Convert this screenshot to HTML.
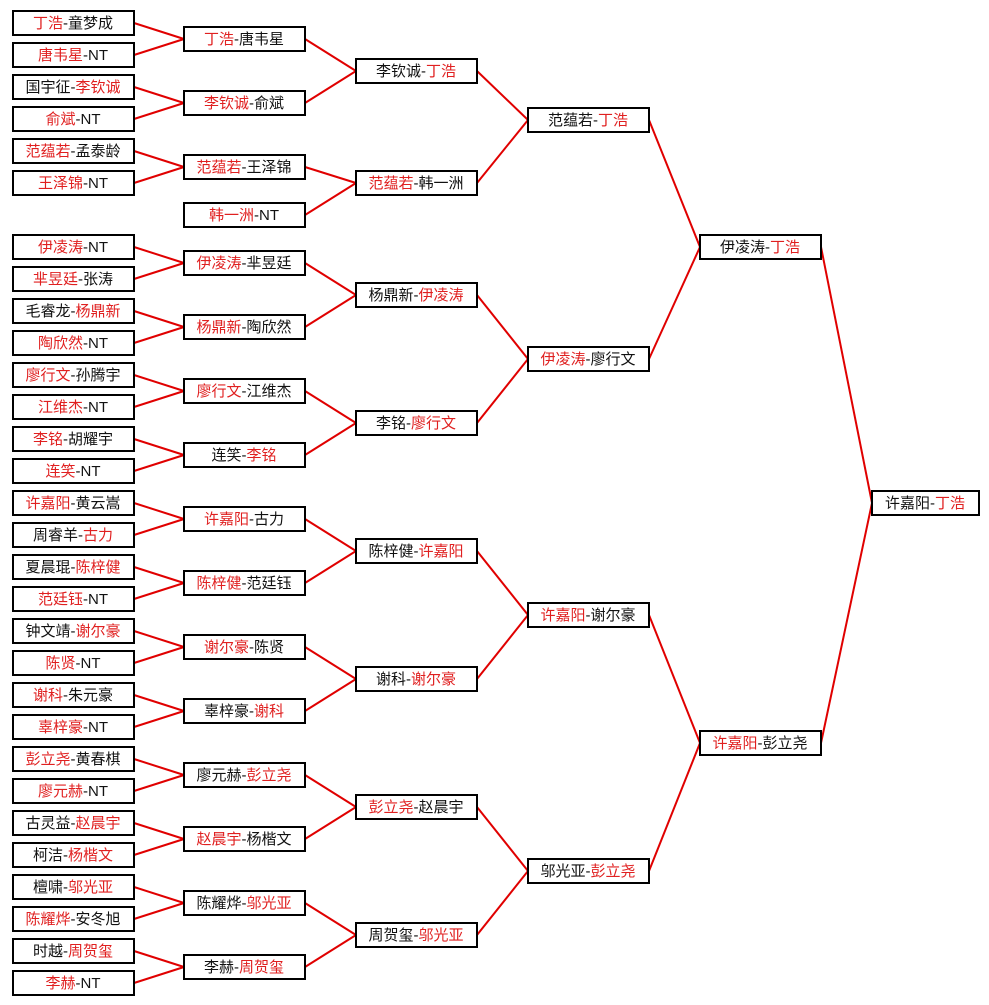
<!DOCTYPE html>
<html><head><meta charset="utf-8"><style>
html,body{margin:0;padding:0;background:#fff;}
svg{display:block;}
text{font-family:"Liberation Sans","Noto Sans CJK SC",sans-serif;font-size:15px;fill:#111;text-anchor:middle;}
.r{fill:#e02020;}
rect{fill:#fff;stroke:#000;stroke-width:2;}
line{stroke:#e00000;stroke-width:2;}
</style></head><body>
<svg width="989" height="1005" viewBox="0 0 989 1005" xmlns="http://www.w3.org/2000/svg">
<rect x="0" y="0" width="989" height="1005" style="fill:#fff;stroke:none"/>
<g>
<!-- col1 -> col2 lines -->
<line x1="134" y1="23" x2="184" y2="39"/><line x1="134" y1="55" x2="184" y2="39"/>
<line x1="134" y1="87" x2="184" y2="103"/><line x1="134" y1="119" x2="184" y2="103"/>
<line x1="134" y1="151" x2="184" y2="167"/><line x1="134" y1="183" x2="184" y2="167"/>
<line x1="134" y1="247" x2="184" y2="263"/><line x1="134" y1="279" x2="184" y2="263"/>
<line x1="134" y1="311" x2="184" y2="327"/><line x1="134" y1="343" x2="184" y2="327"/>
<line x1="134" y1="375" x2="184" y2="391"/><line x1="134" y1="407" x2="184" y2="391"/>
<line x1="134" y1="439" x2="184" y2="455"/><line x1="134" y1="471" x2="184" y2="455"/>
<line x1="134" y1="503" x2="184" y2="519"/><line x1="134" y1="535" x2="184" y2="519"/>
<line x1="134" y1="567" x2="184" y2="583"/><line x1="134" y1="599" x2="184" y2="583"/>
<line x1="134" y1="631" x2="184" y2="647"/><line x1="134" y1="663" x2="184" y2="647"/>
<line x1="134" y1="695" x2="184" y2="711"/><line x1="134" y1="727" x2="184" y2="711"/>
<line x1="134" y1="759" x2="184" y2="775"/><line x1="134" y1="791" x2="184" y2="775"/>
<line x1="134" y1="823" x2="184" y2="839"/><line x1="134" y1="855" x2="184" y2="839"/>
<line x1="134" y1="887" x2="184" y2="903"/><line x1="134" y1="919" x2="184" y2="903"/>
<line x1="134" y1="951" x2="184" y2="967"/><line x1="134" y1="983" x2="184" y2="967"/>
<!-- col2 -> col3 -->
<line x1="305" y1="39" x2="356" y2="71"/><line x1="305" y1="103" x2="356" y2="71"/>
<line x1="305" y1="167" x2="356" y2="183"/><line x1="305" y1="215" x2="356" y2="183"/>
<line x1="305" y1="263" x2="356" y2="295"/><line x1="305" y1="327" x2="356" y2="295"/>
<line x1="305" y1="391" x2="356" y2="423"/><line x1="305" y1="455" x2="356" y2="423"/>
<line x1="305" y1="519" x2="356" y2="551"/><line x1="305" y1="583" x2="356" y2="551"/>
<line x1="305" y1="647" x2="356" y2="679"/><line x1="305" y1="711" x2="356" y2="679"/>
<line x1="305" y1="775" x2="356" y2="807"/><line x1="305" y1="839" x2="356" y2="807"/>
<line x1="305" y1="903" x2="356" y2="935"/><line x1="305" y1="967" x2="356" y2="935"/>
<!-- col3 -> col4 -->
<line x1="477" y1="71" x2="528" y2="120"/><line x1="477" y1="183" x2="528" y2="120"/>
<line x1="477" y1="295" x2="528" y2="359"/><line x1="477" y1="423" x2="528" y2="359"/>
<line x1="477" y1="551" x2="528" y2="615"/><line x1="477" y1="679" x2="528" y2="615"/>
<line x1="477" y1="807" x2="528" y2="871"/><line x1="477" y1="935" x2="528" y2="871"/>
<!-- col4 -> col5 -->
<line x1="649" y1="120" x2="700" y2="247"/><line x1="649" y1="359" x2="700" y2="247"/>
<line x1="649" y1="615" x2="700" y2="743"/><line x1="649" y1="871" x2="700" y2="743"/>
<!-- col5 -> col6 -->
<line x1="821" y1="247" x2="872" y2="503"/><line x1="821" y1="743" x2="872" y2="503"/>
</g>

<!-- col1 boxes -->
<g>
<rect x="13" y="11" width="121" height="24"/><text x="73" y="28"><tspan class="r">丁浩</tspan>-童梦成</text>
<rect x="13" y="43" width="121" height="24"/><text x="73" y="60"><tspan class="r">唐韦星</tspan>-NT</text>
<rect x="13" y="75" width="121" height="24"/><text x="73" y="92">国宇征-<tspan class="r">李钦诚</tspan></text>
<rect x="13" y="107" width="121" height="24"/><text x="73" y="124"><tspan class="r">俞斌</tspan>-NT</text>
<rect x="13" y="139" width="121" height="24"/><text x="73" y="156"><tspan class="r">范蕴若</tspan>-孟泰龄</text>
<rect x="13" y="171" width="121" height="24"/><text x="73" y="188"><tspan class="r">王泽锦</tspan>-NT</text>
<rect x="13" y="235" width="121" height="24"/><text x="73" y="252"><tspan class="r">伊凌涛</tspan>-NT</text>
<rect x="13" y="267" width="121" height="24"/><text x="73" y="284"><tspan class="r">芈昱廷</tspan>-张涛</text>
<rect x="13" y="299" width="121" height="24"/><text x="73" y="316">毛睿龙-<tspan class="r">杨鼎新</tspan></text>
<rect x="13" y="331" width="121" height="24"/><text x="73" y="348"><tspan class="r">陶欣然</tspan>-NT</text>
<rect x="13" y="363" width="121" height="24"/><text x="73" y="380"><tspan class="r">廖行文</tspan>-孙腾宇</text>
<rect x="13" y="395" width="121" height="24"/><text x="73" y="412"><tspan class="r">江维杰</tspan>-NT</text>
<rect x="13" y="427" width="121" height="24"/><text x="73" y="444"><tspan class="r">李铭</tspan>-胡耀宇</text>
<rect x="13" y="459" width="121" height="24"/><text x="73" y="476"><tspan class="r">连笑</tspan>-NT</text>
<rect x="13" y="491" width="121" height="24"/><text x="73" y="508"><tspan class="r">许嘉阳</tspan>-黄云嵩</text>
<rect x="13" y="523" width="121" height="24"/><text x="73" y="540">周睿羊-<tspan class="r">古力</tspan></text>
<rect x="13" y="555" width="121" height="24"/><text x="73" y="572">夏晨琨-<tspan class="r">陈梓健</tspan></text>
<rect x="13" y="587" width="121" height="24"/><text x="73" y="604"><tspan class="r">范廷钰</tspan>-NT</text>
<rect x="13" y="619" width="121" height="24"/><text x="73" y="636">钟文靖-<tspan class="r">谢尔豪</tspan></text>
<rect x="13" y="651" width="121" height="24"/><text x="73" y="668"><tspan class="r">陈贤</tspan>-NT</text>
<rect x="13" y="683" width="121" height="24"/><text x="73" y="700"><tspan class="r">谢科</tspan>-朱元豪</text>
<rect x="13" y="715" width="121" height="24"/><text x="73" y="732"><tspan class="r">辜梓豪</tspan>-NT</text>
<rect x="13" y="747" width="121" height="24"/><text x="73" y="764"><tspan class="r">彭立尧</tspan>-黄春棋</text>
<rect x="13" y="779" width="121" height="24"/><text x="73" y="796"><tspan class="r">廖元赫</tspan>-NT</text>
<rect x="13" y="811" width="121" height="24"/><text x="73" y="828">古灵益-<tspan class="r">赵晨宇</tspan></text>
<rect x="13" y="843" width="121" height="24"/><text x="73" y="860">柯洁-<tspan class="r">杨楷文</tspan></text>
<rect x="13" y="875" width="121" height="24"/><text x="73" y="892">檀啸-<tspan class="r">邬光亚</tspan></text>
<rect x="13" y="907" width="121" height="24"/><text x="73" y="924"><tspan class="r">陈耀烨</tspan>-安冬旭</text>
<rect x="13" y="939" width="121" height="24"/><text x="73" y="956">时越-<tspan class="r">周贺玺</tspan></text>
<rect x="13" y="971" width="121" height="24"/><text x="73" y="988"><tspan class="r">李赫</tspan>-NT</text>
</g>

<!-- col2 -->
<g>
<rect x="184" y="27" width="121" height="24"/><text x="244" y="44"><tspan class="r">丁浩</tspan>-唐韦星</text>
<rect x="184" y="91" width="121" height="24"/><text x="244" y="108"><tspan class="r">李钦诚</tspan>-俞斌</text>
<rect x="184" y="155" width="121" height="24"/><text x="244" y="172"><tspan class="r">范蕴若</tspan>-王泽锦</text>
<rect x="184" y="203" width="121" height="24"/><text x="244" y="220"><tspan class="r">韩一洲</tspan>-NT</text>
<rect x="184" y="251" width="121" height="24"/><text x="244" y="268"><tspan class="r">伊凌涛</tspan>-芈昱廷</text>
<rect x="184" y="315" width="121" height="24"/><text x="244" y="332"><tspan class="r">杨鼎新</tspan>-陶欣然</text>
<rect x="184" y="379" width="121" height="24"/><text x="244" y="396"><tspan class="r">廖行文</tspan>-江维杰</text>
<rect x="184" y="443" width="121" height="24"/><text x="244" y="460">连笑-<tspan class="r">李铭</tspan></text>
<rect x="184" y="507" width="121" height="24"/><text x="244" y="524"><tspan class="r">许嘉阳</tspan>-古力</text>
<rect x="184" y="571" width="121" height="24"/><text x="244" y="588"><tspan class="r">陈梓健</tspan>-范廷钰</text>
<rect x="184" y="635" width="121" height="24"/><text x="244" y="652"><tspan class="r">谢尔豪</tspan>-陈贤</text>
<rect x="184" y="699" width="121" height="24"/><text x="244" y="716">辜梓豪-<tspan class="r">谢科</tspan></text>
<rect x="184" y="763" width="121" height="24"/><text x="244" y="780">廖元赫-<tspan class="r">彭立尧</tspan></text>
<rect x="184" y="827" width="121" height="24"/><text x="244" y="844"><tspan class="r">赵晨宇</tspan>-杨楷文</text>
<rect x="184" y="891" width="121" height="24"/><text x="244" y="908">陈耀烨-<tspan class="r">邬光亚</tspan></text>
<rect x="184" y="955" width="121" height="24"/><text x="244" y="972">李赫-<tspan class="r">周贺玺</tspan></text>
</g>

<!-- col3 -->
<g>
<rect x="356" y="59" width="121" height="24"/><text x="416" y="76">李钦诚-<tspan class="r">丁浩</tspan></text>
<rect x="356" y="171" width="121" height="24"/><text x="416" y="188"><tspan class="r">范蕴若</tspan>-韩一洲</text>
<rect x="356" y="283" width="121" height="24"/><text x="416" y="300">杨鼎新-<tspan class="r">伊凌涛</tspan></text>
<rect x="356" y="411" width="121" height="24"/><text x="416" y="428">李铭-<tspan class="r">廖行文</tspan></text>
<rect x="356" y="539" width="121" height="24"/><text x="416" y="556">陈梓健-<tspan class="r">许嘉阳</tspan></text>
<rect x="356" y="667" width="121" height="24"/><text x="416" y="684">谢科-<tspan class="r">谢尔豪</tspan></text>
<rect x="356" y="795" width="121" height="24"/><text x="416" y="812"><tspan class="r">彭立尧</tspan>-赵晨宇</text>
<rect x="356" y="923" width="121" height="24"/><text x="416" y="940">周贺玺-<tspan class="r">邬光亚</tspan></text>
</g>

<!-- col4 -->
<g>
<rect x="528" y="108" width="121" height="24"/><text x="588" y="125">范蕴若-<tspan class="r">丁浩</tspan></text>
<rect x="528" y="347" width="121" height="24"/><text x="588" y="364"><tspan class="r">伊凌涛</tspan>-廖行文</text>
<rect x="528" y="603" width="121" height="24"/><text x="588" y="620"><tspan class="r">许嘉阳</tspan>-谢尔豪</text>
<rect x="528" y="859" width="121" height="24"/><text x="588" y="876">邬光亚-<tspan class="r">彭立尧</tspan></text>
</g>

<!-- col5 -->
<g>
<rect x="700" y="235" width="121" height="24"/><text x="760" y="252">伊凌涛-<tspan class="r">丁浩</tspan></text>
<rect x="700" y="731" width="121" height="24"/><text x="760" y="748"><tspan class="r">许嘉阳</tspan>-彭立尧</text>
</g>

<!-- col6 -->
<rect x="872" y="491" width="107" height="24"/><text x="925" y="508">许嘉阳-<tspan class="r">丁浩</tspan></text>
</svg>
</body></html>
